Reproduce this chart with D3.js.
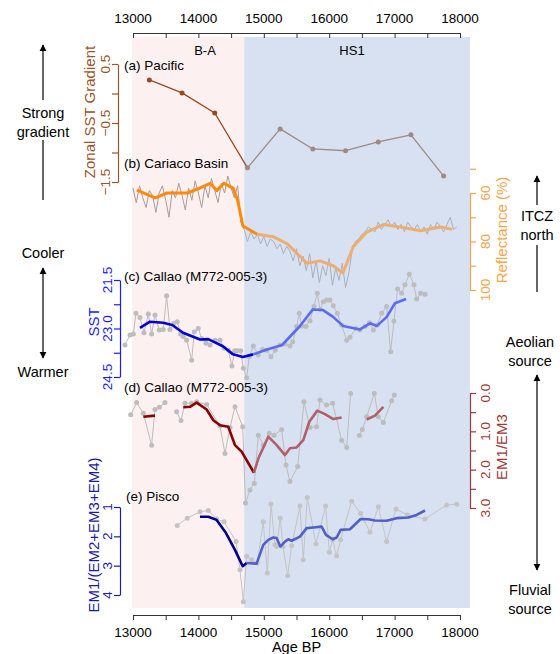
<!DOCTYPE html>
<html><head><meta charset="utf-8">
<script src="https://cdn.jsdelivr.net/npm/d3@7"></script>
<style>body{margin:0;background:#fff}text{font-family:"Liberation Sans",Arial,sans-serif}</style>
</head><body><svg id="fig" width="560" height="654"></svg>
<script>
// panel (a) zonal SST gradient
var gradAge = [13250,13750,14250,14750,15250,15750,16250,16750,17250,17750];
var gradVal = [0.23,0.01,-0.33,-1.26,-0.6,-0.94,-0.97,-0.82,-0.7,-1.4];

// panel (b) Cariaco reflectance, raw every 50 yr + smoothed
var reflAge = d3.range(13000, 18000, 50);
var reflRaw = [58,64,57,62,66,59,61,68,60,57,63,70,59,62,56,61,67,58,63,55,60,66,57,62,54,59,64,56,60,53,58,62,57,72,
  75,80,76,79,77,81,78,82,79,80,83,81,85,82,84,88,83,90,86,92,85,95,88,97,90,94,87,98,91,96,
  89,99,93,84,80,79,77,76,74,75,76,72,75,73,71,74,72,75,73,76,72,74,75,73,76,74,77,73,75,72,74,76,73,70,75,74];
var reflSmAge = [13060,13340,13520,13830,14020,14180,14280,14390,14530,14600,14680,14900,15140,15360,15660,15860,16060,16210,16370,16580,16830,17080,17400,17700,17880];
var reflSm = [58.8,62,60,60,58,56,59,56,58,63,73.6,77,78,81,89,88,90,93,82,76,73,74,75.6,74,75];

// panel (c) Callao SST
var sstAge = [12877,12954,13005,13045,13107,13168,13234,13285,13336,13402,13463,13514,13565,13627,13677,13728,13769,13820,13897,13937,13998,14050,14116,14177,14253,14330,14391,14457,14513,14554,14595,14646,14687,14738,14778,14840,14916,14982,15044,15110,15176,15247,15324,15400,15441,15502,15543,15579,15645,15706,15767,15818,15859,15910,15961,16012,16063,16124,16190,16267,16318,16409,16471,16547,16613,16675,16736,16802,16878,16939,16990,17047,17108,17159,17225,17296,17337,17398,17465];
var sstVal = [23.51,23.2,23.17,22.53,22.66,23.13,22.55,23.17,22.58,23.05,23.03,21.99,23.03,22.84,22.79,23.17,23.25,23.36,23.98,23.1,23.0,23.31,23.46,23.51,23.36,23.36,23.61,23.67,24.16,23.69,23.69,23.69,24.23,24.52,23.87,23.54,23.82,23.65,23.67,23.87,23.67,23.51,23.48,23.54,23.41,22.94,22.53,22.92,22.94,22.76,22.32,21.91,22.41,22.17,22.12,22.12,22.3,22.53,22.89,23.36,23.27,23.0,23.05,22.94,22.82,23.05,22.89,22.53,22.32,23.72,22.77,21.78,21.91,21.65,21.32,21.65,22.09,21.91,21.94];
var sstSmAge = [13107,13260,13460,13600,13765,14025,14150,14375,14530,14680,14835,15050,15280,15550,15750,15905,16060,16210,16470,16625,16730,16880,17005,17175];
var sstSm = [22.98,22.79,22.82,22.89,23.13,23.34,23.33,23.55,23.8,23.88,23.8,23.65,23.51,22.93,22.41,22.43,22.64,22.92,23.03,22.84,22.92,22.64,22.22,22.09];

// panel (d) Callao EM1/EM3 (null = gap)
var emAge = [12964,13056,13158,13285,13336,13402,13489,13580,13667,13734,13795,13897,13973,14126,14330,14406,14483,14559,14677,14720,14789,14855,14916,14993,15084,15156,15273,15339,15400,15518,15614,15706,15808,15859,15961,16053,16190,16267,16328,16400,16461,16507,16573,16690,16751,16828,16955,16996];
var emVal = [0.57,0.25,0.53,1.36,0.43,0.37,0.25,null,0.49,0.72,0.27,0.27,0.23,0.3,0.86,1.58,0.9,0.36,0.88,2.87,2.53,2.36,1.1,1.36,1.05,1.1,0.95,1.88,2.31,1.92,0.23,0.9,0.88,0.18,0.31,0.27,1.23,1.42,0.01,null,1.11,0.95,0.62,0.01,0.62,0.77,0.2,0.05];
var emSmAge = [13158,13336,13550,13769,13871,13973,14126,14228,14330,14457,14559,14661,14850,14916,15069,15197,15324,15400,15502,15604,15696,15818,15936,16063,16190,16400,16573,16700,16828];
var emSm = [0.62,0.59,null,0.37,0.36,0.25,0.43,0.71,0.84,0.88,1.36,1.53,2.08,1.71,1.14,1.36,1.62,1.44,1.42,1.23,0.75,0.46,0.55,0.68,0.64,null,0.69,0.59,0.36];

// panel (e) Pisco EM1/(EM2+EM3+EM4)
var piAge = [13677,13830,14024,14152,14279,14391,14575,14636,14687,14738,14814,14900,14992,15054,15110,15171,15196,15252,15293,15365,15426,15553,15604,15665,15798,15946,16002,16053,16114,16175,16343,16481,16624,16751,16878,17021,17194,17465,17796,17949];
var piVal = [1.63,1.38,1.16,1.12,1.41,1.5,2.18,3.14,4.23,2.68,2.8,2.91,1.5,3.25,0.9,2.29,2.35,1.38,2.35,3.34,2.32,0.97,2.8,0.68,2.26,0.97,2.54,2.12,2.66,2.12,0.8,1.22,1.86,0.99,2.18,1.07,1.27,1.41,0.93,0.91];
var piSmAge = [14024,14152,14279,14422,14559,14677,14738,14890,14992,15069,15145,15196,15252,15324,15375,15426,15553,15655,15757,15884,15951,16053,16114,16175,16318,16481,16598,16700,16878,17031,17210,17337,17465];
var piSm = [1.33,1.33,1.44,1.89,2.46,3.02,2.91,2.93,2.29,2.12,2.04,2.06,2.35,2.18,2.1,2.15,2.01,1.72,1.7,1.67,1.95,2.1,2.04,1.78,1.76,1.41,1.42,1.46,1.47,1.38,1.36,1.27,1.12];

var axisTicks = [13000,14000,15000,16000,17000,18000];
var split = 14700;

var svg = d3.select("#fig");
var x = d3.scaleLinear().domain([13000, 18000]).range([133, 460]);

// background periods
svg.append("rect").attr("x", 132).attr("y", 37).attr("width", x(split) - 132).attr("height", 571).attr("fill", "#fdf0f0");
svg.append("rect").attr("x", x(split)).attr("y", 37).attr("width", 470 - x(split)).attr("height", 571).attr("fill", "#d7e1f1");
svg.append("text").attr("x", 205).attr("y", 55).attr("text-anchor", "middle").attr("font-size", 13).text("B-A");
svg.append("text").attr("x", 352).attr("y", 55).attr("text-anchor", "middle").attr("font-size", 13).text("HS1");

// x axes
function ageAxis(g, ax) {
  g.call(ax.tickValues(d3.range(13000, 18001, 500)).tickFormat("").tickSize(5).tickSizeOuter(0));
  g.selectAll("path,line").attr("stroke", "#333");
}
var topAx = svg.append("g").attr("transform", "translate(0,33)");
ageAxis(topAx, d3.axisTop(x));
topAx.selectAll("line").attr("y2", 5);
var botAx = svg.append("g").attr("transform", "translate(0,615)");
ageAxis(botAx, d3.axisBottom(x));
axisTicks.forEach(function (t) {
  svg.append("text").attr("x", x(t)).attr("y", 23).attr("text-anchor", "middle").attr("font-size", 13.5).text(t);
  svg.append("text").attr("x", x(t)).attr("y", 637).attr("text-anchor", "middle").attr("font-size", 13.5).text(t);
});
svg.append("text").attr("x", x(15500)).attr("y", 652).attr("text-anchor", "middle").attr("font-size", 14.5).text("Age BP");

// y axis helper
function yAxis(scale, ax, pos, ticks, labels, fmt, color, right, title, titleX, titleY) {
  var g = svg.append("g").attr("transform", "translate(" + pos + ",0)");
  g.call(ax.tickValues(ticks).tickFormat("").tickSize(6).tickSizeOuter(0));
  g.selectAll("path,line").attr("stroke", color).attr("stroke-width", 1.2);
  labels.forEach(function (v) {
    var px = right ? pos + 20 : pos - 8;
    svg.append("text").attr("transform", "translate(" + px + "," + scale(v) + ") rotate(-90)")
      .attr("text-anchor", "middle").attr("font-size", 13.5).attr("fill", color).text(fmt(v));
  });
  svg.append("text").attr("transform", "translate(" + titleX + "," + titleY + ") rotate(-90)")
    .attr("text-anchor", "middle").attr("font-size", 15).attr("fill", color).text(title);
}

function pts(ages, vals) { return ages.map(function (a, i) { return [a, vals[i]]; }); }
function halves(p) {
  var k = p.findIndex(function (d) { return d[0] >= split; });
  if (k < 0) return [p, []];
  return [p.slice(0, k + 1), p.slice(k)];
}
function drawLine(p, y, color, w) {
  var line = d3.line().defined(function (d) { return d[1] != null; }).x(function (d) { return x(d[0]); }).y(function (d) { return y(d[1]); });
  svg.append("path").datum(p).attr("d", line).attr("fill", "none").attr("stroke", color).attr("stroke-width", w).attr("stroke-linejoin", "round");
}
function drawDots(p, y, color, r) {
  svg.append("g").selectAll("circle").data(p.filter(function (d) { return d[1] != null; })).join("circle")
    .attr("cx", function (d) { return x(d[0]); }).attr("cy", function (d) { return y(d[1]); }).attr("r", r).attr("fill", color);
}
function label(txt, px, py) {
  svg.append("text").attr("x", px).attr("y", py).attr("font-size", 13.5).text(txt);
}

// (a)
var ya = d3.scaleLinear().domain([0.5, -1.5]).range([64, 182]);
yAxis(ya, d3.axisLeft(ya), 118, [0.5, 0, -0.5, -1, -1.5], [0.5, -0.5, -1.5], d3.format(".1f"), "#9a5528", false, "Zonal SST Gradient", 95, 112);
var pa = halves(pts(gradAge, gradVal));
drawLine(pa[0], ya, "#9a4a1e", 1.3);
drawLine(pa[1], ya, "#a08a80", 1.3);
drawDots(pa[0].slice(0, -1), ya, "#9a4a1e", 2.5);
drawDots(pa[1], ya, "#a08a80", 2.5);
label("(a) Pacific", 124, 70);

// (b)
var yb = d3.scaleLinear().domain([60, 100]).range([193, 290]);
yAxis(yb, d3.axisRight(yb), 470, [50, 60, 70, 80, 90, 100], [60, 80, 100], d3.format("d"), "#f5a54a", true, "Reflectance (%)", 507, 230);
var pbr = halves(pts(reflAge, reflRaw));
drawLine(pbr[0], yb, "#a89d98", 1);
drawLine(pbr[1], yb, "#a9b1bf", 1);
var pbs = halves(pts(reflSmAge, reflSm));
drawLine(pbs[0], yb, "#ff8a0a", 3);
drawLine(pbs[1], yb, "#eeae70", 3);
label("(b) Cariaco Basin", 124, 168);

// (c)
var yc = d3.scaleLinear().domain([21.5, 24.5]).range([280, 377]);
yAxis(yc, d3.axisLeft(yc), 120, [21.5, 22.25, 23, 23.75, 24.5], [21.5, 23, 24.5], d3.format(".1f"), "#1a1aff", false, "SST", 99, 322);
var pc = pts(sstAge, sstVal);
drawLine(pc, yc, "#bdbdbd", 1);
drawDots(pc, yc, "#bdbdbd", 2.5);
var pcs = halves(pts(sstSmAge, sstSm));
drawLine(pcs[0], yc, "#0000d8", 2.6);
drawLine(pcs[1], yc, "#5a6cf2", 2.6);
label("(c) Callao (M772-005-3)", 124, 281);

// (d)
var yd = d3.scaleLinear().domain([0, 3]).range([393, 508]);
yAxis(yd, d3.axisRight(yd), 470, [0, 0.5, 1, 1.5, 2, 2.5, 3], [0, 1, 2, 3], d3.format(".1f"), "#a03a3a", true, "EM1/EM3", 507, 447);
var pd = pts(emAge, emVal);
drawLine(pd, yd, "#bdbdbd", 1);
drawDots(pd, yd, "#bdbdbd", 2.5);
var pds = halves(pts(emSmAge, emSm));
drawLine(pds[0], yd, "#8b0000", 2.6);
drawLine(pds[1], yd, "#b06068", 2.6);
label("(d) Callao (M772-005-3)", 124, 392);

// (e)
var ye = d3.scaleLinear().domain([1, 4]).range([507, 595]);
yAxis(ye, d3.axisLeft(ye), 120, [1, 2, 3, 4], [1, 2, 3, 4], d3.format("d"), "#1c1ca0", false, "EM1/(EM2+EM3+EM4)", 99, 535);
var pe = pts(piAge, piVal);
drawLine(pe, ye, "#c4c4c4", 1);
drawDots(pe, ye, "#c4c4c4", 2.5);
var pes = halves(pts(piSmAge, piSm));
drawLine(pes[0], ye, "#00008b", 2.6);
drawLine(pes[1], ye, "#5060c4", 2.6);
label("(e) Pisco", 126, 501);

// side annotations
svg.append("defs").append("marker").attr("id", "ah").attr("viewBox", "0 0 10 10").attr("refX", 9).attr("refY", 5)
  .attr("markerWidth", 6).attr("markerHeight", 6).attr("orient", "auto-start-reverse")
  .append("path").attr("d", "M0,0L10,5L0,10z").attr("fill", "#000");
function arrow(x1, y1, x2, y2, both) {
  var l = svg.append("line").attr("x1", x1).attr("y1", y1).attr("x2", x2).attr("y2", y2).attr("stroke", "#000").attr("stroke-width", 1.2).attr("marker-end", "url(#ah)");
  if (both) l.attr("marker-start", "url(#ah)");
}
function side(lines, px, py) {
  lines.forEach(function (t, i) {
    svg.append("text").attr("x", px).attr("y", py + i * 19).attr("text-anchor", "middle").attr("font-size", 14.5).text(t);
  });
}
arrow(43, 100, 43, 45);
svg.append("line").attr("x1", 43).attr("y1", 140).attr("x2", 43).attr("y2", 200).attr("stroke", "#000").attr("stroke-width", 1.2);
side(["Strong", "gradient"], 43, 118);
side(["Cooler"], 43, 258);
arrow(43, 268, 43, 358, true);
side(["Warmer"], 43, 377);
arrow(537, 205, 537, 176);
svg.append("line").attr("x1", 537).attr("y1", 245).attr("x2", 537).attr("y2", 292).attr("stroke", "#000").attr("stroke-width", 1.2);
side(["ITCZ", "north"], 537, 221);
side(["Aeolian", "source"], 530, 347);
arrow(537, 375, 537, 570, true);
side(["Fluvial", "source"], 530, 595);
</script>
</body></html>
